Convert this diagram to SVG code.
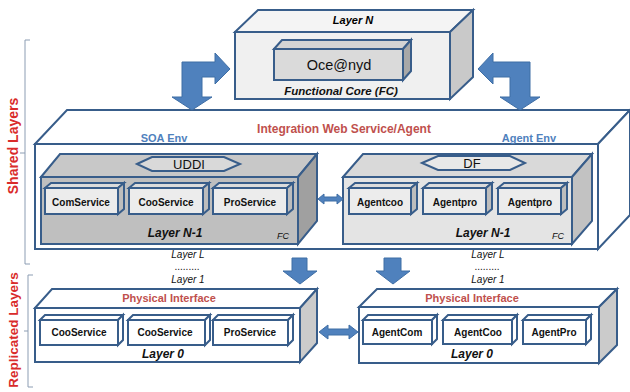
<svg xmlns="http://www.w3.org/2000/svg" width="630" height="392" viewBox="0 0 630 392">
<style>
  .bx{stroke:#385d8a;stroke-width:2;stroke-linejoin:miter}
  .arr{fill:#4f81bd;stroke:#3f6ea5;stroke-width:1}
  .t{font-family:"Liberation Sans",Arial,sans-serif;text-anchor:middle}
  .bi{font-weight:bold;font-style:italic}
  .lbl{font-weight:bold;font-size:10px;fill:#111}
  .red{fill:#c0504d;font-weight:bold}
  .blue{fill:#4f81bd;font-size:11px;font-weight:bold}
  .side{fill:#d92b2b;font-weight:bold}
  .br{fill:none;stroke:#8c9db3;stroke-width:1}
</style>
<rect width="630" height="392" fill="#ffffff"/>

<g id="brackets">
  <path class="br" d="M30,40 H25 V264 H30 M25,153 H20"/>
  <path class="br" d="M33,275 H28 V387 H33 M28,331 H24"/>
  <text class="t side" font-size="14" transform="translate(18,146) rotate(-90)">Shared Layers</text>
  <text class="t side" font-size="13.5" transform="translate(18,330) rotate(-90)">Replicated Layers</text>
</g>

<g id="layerN">
  <polygon class="bx" fill="#f4f4f4" points="235,32 258,10 473,10 450,32"/>
  <polygon class="bx" fill="#c9c9c9" points="450,32 473,10 473,77 450,99"/>
  <rect class="bx" fill="#f0f0f0" x="235" y="32" width="215" height="67"/>
  <text class="t bi" font-size="11" x="353" y="24">Layer N</text>
  <g id="ocenyd">
    <polygon class="bx" fill="#d4d4d4" points="274,49 282,40 411,40 403,49"/>
    <polygon class="bx" fill="#a8a8a8" points="403,49 411,40 411,71 403,80"/>
    <rect class="bx" fill="#dadada" x="274" y="49" width="129" height="31"/>
    <text class="t" font-size="14.5" x="339" y="70" fill="#111">Oce@nyd</text>
  </g>
  <text class="t bi" font-size="11.5" x="341" y="95" fill="#111">Functional Core (FC)</text>
</g>

<g id="integration">
  <polygon class="bx" fill="#ffffff" points="35,144 67,110 630,110 598,144"/>
  <polygon class="bx" fill="#ffffff" points="598,144 630,110 630,215 598,249"/>
  <rect class="bx" fill="#ffffff" x="35" y="144" width="563" height="105"/>
  <text class="t red" font-size="12" x="344" y="133">Integration Web Service/Agent</text>
  <text class="t blue" x="164" y="142">SOA Env</text>
  <text class="t blue" x="529" y="142">Agent Env</text>
</g>

<g id="soa">
  <polygon class="bx" fill="#c8c8c8" points="41,177 60,154 317,154 298,177"/>
  <polygon class="bx" fill="#a0a0a0" points="298,177 317,154 317,221 298,244"/>
  <rect class="bx" fill="#bfbfbf" x="41" y="177" width="257" height="67"/>
  <polygon class="bx" fill="#d9d9d9" points="137,164 152,157 224,157 240,164 224,171 152,171"/>
  <text class="t" font-size="13" x="189" y="168.5" fill="#111">UDDI</text>
  <g id="comservice">
    <polygon class="bx" fill="#dcdcdc" points="45,188 51,183 124,183 118,188"/>
    <polygon class="bx" fill="#bdbdbd" points="118,188 124,183 124,209 118,214"/>
    <rect class="bx" fill="#ececec" x="45" y="188" width="73" height="26"/>
    <text class="t lbl" x="81" y="206">ComService</text>
  </g>
  <g id="cooservice">
    <polygon class="bx" fill="#dcdcdc" points="129,188 135,183 209,183 203,188"/>
    <polygon class="bx" fill="#bdbdbd" points="203,188 209,183 209,209 203,214"/>
    <rect class="bx" fill="#ececec" x="129" y="188" width="74" height="26"/>
    <text class="t lbl" x="166" y="206">CooService</text>
  </g>
  <g id="proservice">
    <polygon class="bx" fill="#dcdcdc" points="213,188 219,183 293,183 287,188"/>
    <polygon class="bx" fill="#bdbdbd" points="287,188 293,183 293,209 287,214"/>
    <rect class="bx" fill="#ececec" x="213" y="188" width="74" height="26"/>
    <text class="t lbl" x="250" y="206">ProService</text>
  </g>
  <text class="t bi" font-size="12" x="175" y="237" fill="#111">Layer N-1</text>
  <text class="t" font-style="italic" font-size="9" x="283" y="239" fill="#111">FC</text>
</g>

<g id="agentenv">
  <polygon class="bx" fill="#d9d9d9" points="343,177 363,154 592,154 572,177"/>
  <polygon class="bx" fill="#c2c2c2" points="572,177 592,154 592,221 572,244"/>
  <rect class="bx" fill="#e4e4e4" x="343" y="177" width="229" height="67"/>
  <polygon class="bx" fill="#e8e8e8" points="422,163 438,156 510,156 525,163 510,170 438,170"/>
  <text class="t" font-size="13" x="472" y="168" fill="#111">DF</text>
  <g id="agentcoo">
    <polygon class="bx" fill="#dcdcdc" points="349,188 355,183 417,183 411,188"/>
    <polygon class="bx" fill="#bdbdbd" points="411,188 417,183 417,209 411,214"/>
    <rect class="bx" fill="#ececec" x="349" y="188" width="62" height="26"/>
    <text class="t lbl" x="380" y="206">Agentcoo</text>
  </g>
  <g id="agentpro1">
    <polygon class="bx" fill="#dcdcdc" points="423,188 429,183 492,183 486,188"/>
    <polygon class="bx" fill="#bdbdbd" points="486,188 492,183 492,209 486,214"/>
    <rect class="bx" fill="#ececec" x="423" y="188" width="63" height="26"/>
    <text class="t lbl" x="455" y="206">Agentpro</text>
  </g>
  <g id="agentpro2">
    <polygon class="bx" fill="#dcdcdc" points="498,188 504,183 567,183 561,188"/>
    <polygon class="bx" fill="#bdbdbd" points="561,188 567,183 567,209 561,214"/>
    <rect class="bx" fill="#ececec" x="498" y="188" width="63" height="26"/>
    <text class="t lbl" x="530" y="206">Agentpro</text>
  </g>
  <text class="t bi" font-size="12" x="483" y="237" fill="#111">Layer N-1</text>
  <text class="t" font-style="italic" font-size="9" x="558" y="239" fill="#111">FC</text>
</g>

<g id="midlabels" fill="#111">
  <text class="t" font-style="italic" font-size="10" x="188" y="258">Layer L</text>
  <text class="t" font-size="10" x="187" y="270">.........</text>
  <text class="t" font-style="italic" font-size="10" x="188" y="283">Layer 1</text>
  <text class="t" font-style="italic" font-size="10" x="488" y="258">Layer L</text>
  <text class="t" font-size="10" x="487" y="270">.........</text>
  <text class="t" font-style="italic" font-size="10" x="488" y="283">Layer 1</text>
</g>

<g id="layer0left">
  <polygon class="bx" fill="#ffffff" points="35,308 52,289 317,289 300,308"/>
  <polygon class="bx" fill="#cbcbcb" points="300,308 317,289 317,343 300,362"/>
  <rect class="bx" fill="#ffffff" x="35" y="308" width="265" height="54"/>
  <text class="t red" font-size="11" x="169" y="302">Physical Interface</text>
  <g id="cooservice0a">
    <polygon class="bx" fill="#ffffff" points="40,320 45,315 123,315 118,320"/>
    <polygon class="bx" fill="#ffffff" points="118,320 123,315 123,340 118,345"/>
    <rect class="bx" fill="#ffffff" x="40" y="320" width="78" height="25"/>
    <text class="t lbl" x="79" y="336">CooService</text>
  </g>
  <g id="cooservice0b">
    <polygon class="bx" fill="#ffffff" points="128,320 133,315 210,315 205,320"/>
    <polygon class="bx" fill="#ffffff" points="205,320 210,315 210,340 205,345"/>
    <rect class="bx" fill="#ffffff" x="128" y="320" width="77" height="25"/>
    <text class="t lbl" x="165" y="336">CooService</text>
  </g>
  <g id="proservice0">
    <polygon class="bx" fill="#ffffff" points="213,320 218,315 293,315 288,320"/>
    <polygon class="bx" fill="#ffffff" points="288,320 293,315 293,340 288,345"/>
    <rect class="bx" fill="#ffffff" x="213" y="320" width="75" height="25"/>
    <text class="t lbl" x="250" y="336">ProService</text>
  </g>
  <text class="t bi" font-size="12" x="163" y="358" fill="#111">Layer 0</text>
</g>

<g id="layer0right">
  <polygon class="bx" fill="#ffffff" points="359,307 377,289 617,289 599,307"/>
  <polygon class="bx" fill="#cbcbcb" points="599,307 617,289 617,345 599,363"/>
  <rect class="bx" fill="#ffffff" x="359" y="307" width="240" height="56"/>
  <text class="t red" font-size="11" x="472" y="302">Physical Interface</text>
  <g id="agentcom">
    <polygon class="bx" fill="#ffffff" points="363,320 368,315 437,315 432,320"/>
    <polygon class="bx" fill="#ffffff" points="432,320 437,315 437,339 432,344"/>
    <rect class="bx" fill="#ffffff" x="363" y="320" width="69" height="24"/>
    <text class="t lbl" x="397" y="336">AgentCom</text>
  </g>
  <g id="agentcoo0">
    <polygon class="bx" fill="#ffffff" points="443,320 448,315 517,315 512,320"/>
    <polygon class="bx" fill="#ffffff" points="512,320 517,315 517,339 512,344"/>
    <rect class="bx" fill="#ffffff" x="443" y="320" width="69" height="24"/>
    <text class="t lbl" x="478" y="336">AgentCoo</text>
  </g>
  <g id="agentpro0">
    <polygon class="bx" fill="#ffffff" points="523,320 528,315 591,315 586,320"/>
    <polygon class="bx" fill="#ffffff" points="586,320 591,315 591,339 586,344"/>
    <rect class="bx" fill="#ffffff" x="523" y="320" width="63" height="24"/>
    <text class="t lbl" x="554" y="336">AgentPro</text>
  </g>
  <text class="t bi" font-size="12" x="472" y="358" fill="#111">Layer 0</text>
</g>

<g id="connectors">
  <polygon class="arr" points="182,97 182,62 215,62 215,53 230,69 215,84 215,77 202,77 202,97 212,97 192,110 172,97"/>
  <polygon class="arr" points="530,97 530,62 493,62 493,53 478,69 493,84 493,77 510,77 510,97 500,97 520,110 540,97"/>
  <polygon class="arr" points="292,258 307,258 307,271 317,271 300,284 283,271 292,271"/>
  <polygon class="arr" points="384,258 401,258 401,271 410,271 393,284 376,271 384,271"/>
  <polygon class="arr" points="318,199 324,194 324,197 337,197 337,194 343,199 337,204 337,201 324,201 324,204"/>
  <polygon class="arr" points="319,332 328,325 328,329 349,329 349,325 358,332 349,339 349,335 328,335 328,339"/>
</g>
</svg>
